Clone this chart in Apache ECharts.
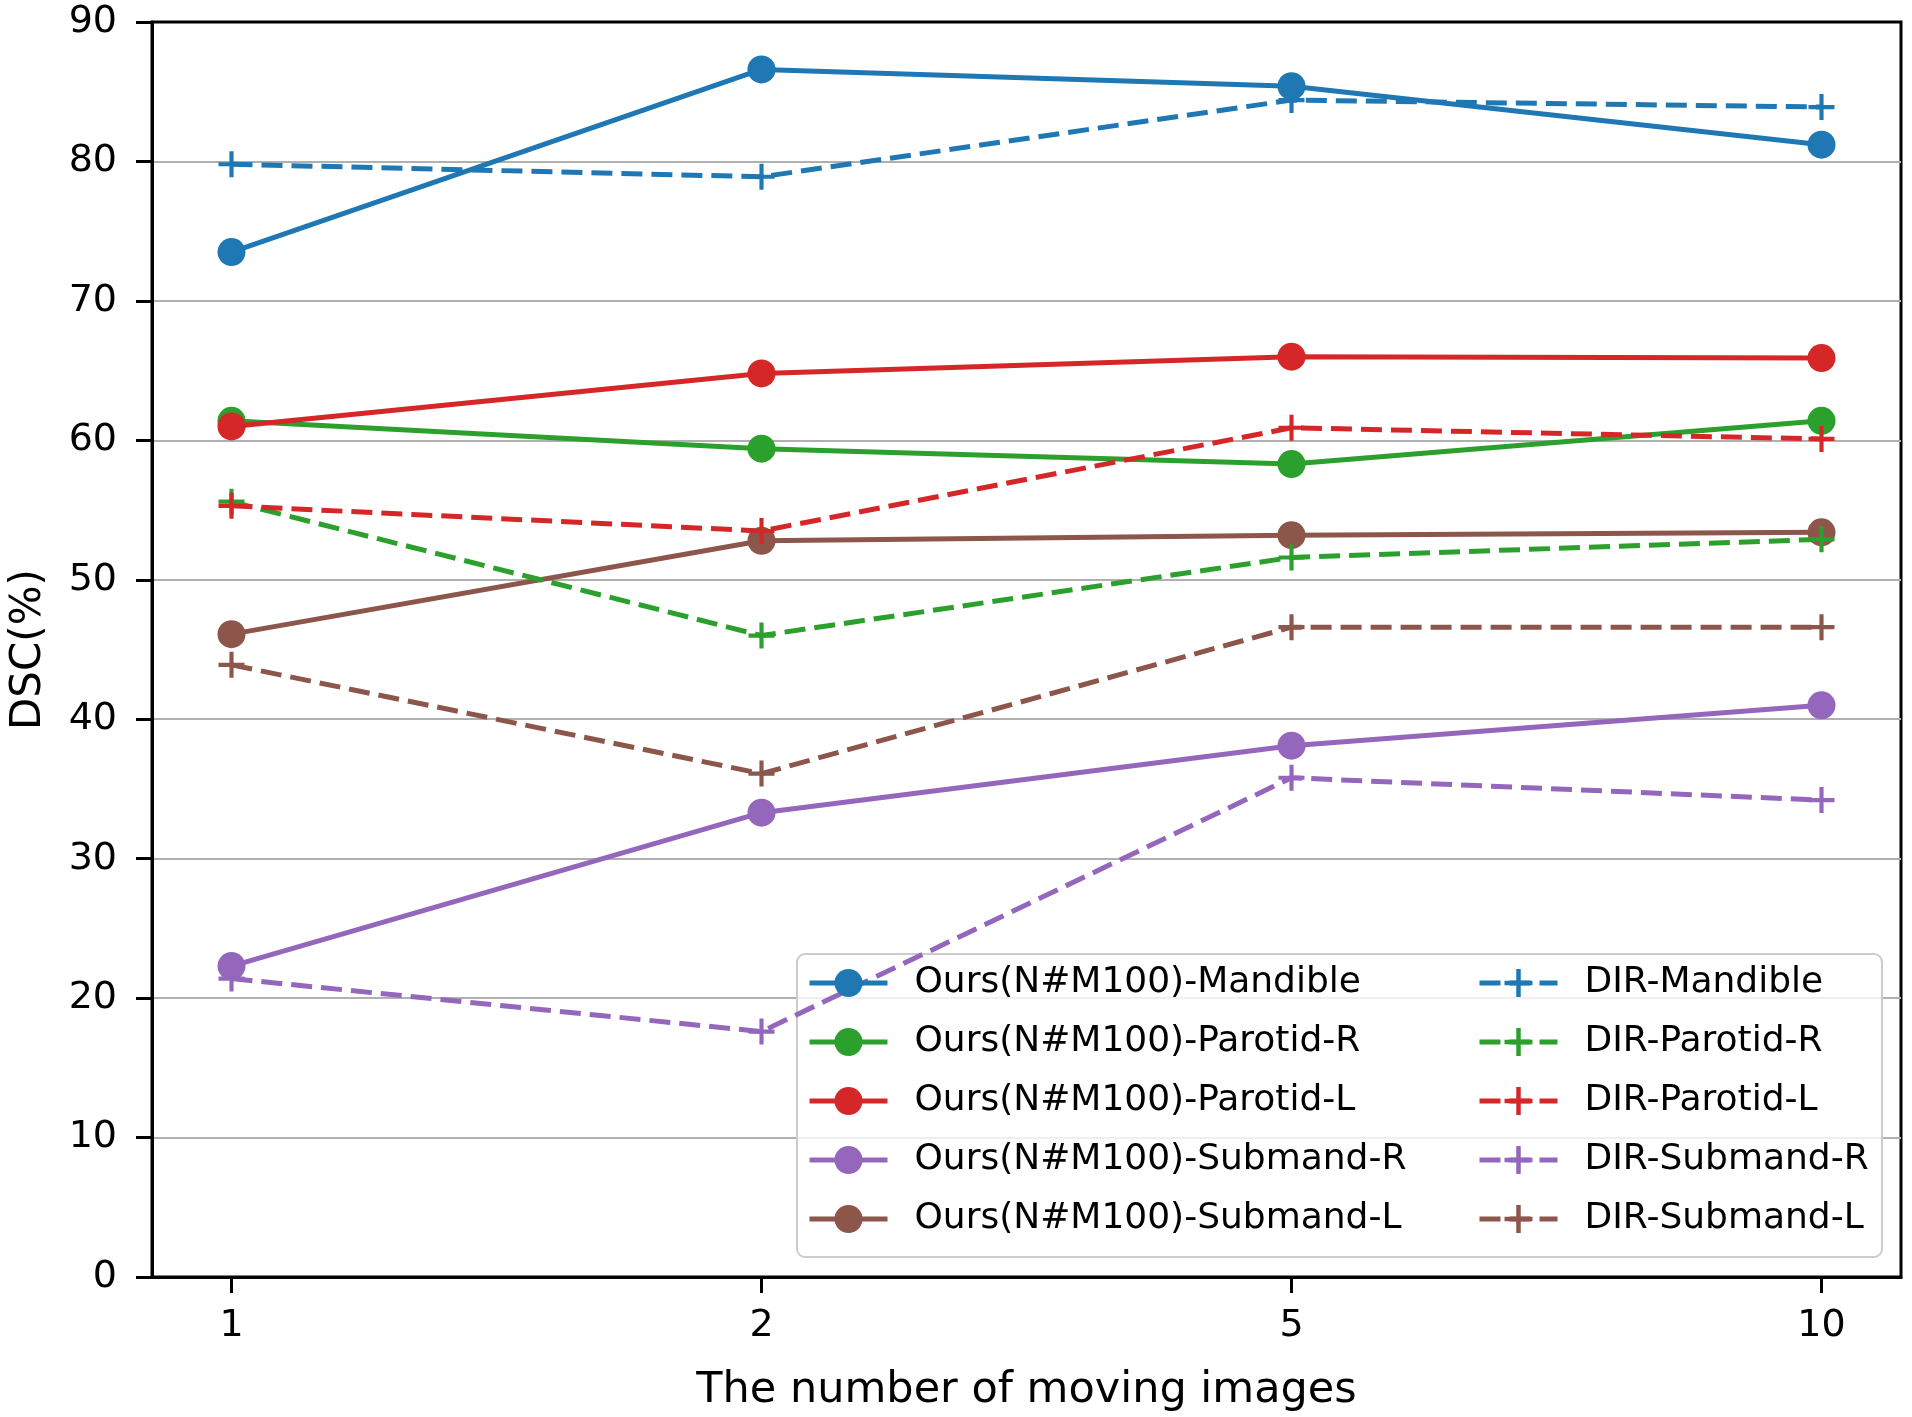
<!DOCTYPE html>
<html>
<head>
<meta charset="utf-8">
<script src="https://cdn.jsdelivr.net/npm/echarts@6/dist/echarts.min.js"></script>
<style>
html,body{margin:0;padding:0;background:#fff;}
#chart{width:1912px;height:1417px;}
</style>
</head>
<body>
<div id="chart"></div>
<script>
// ---- data ----
const categories = ['1', '2', '5', '10'];
const yTicks = [0, 10, 20, 30, 40, 50, 60, 70, 80, 90];

const oursMandible  = [73.5, 86.6, 85.4, 81.2];
const oursParotidR  = [61.4, 59.4, 58.3, 61.4];
const oursParotidL  = [61.0, 64.8, 66.0, 65.9];
const oursSubmandR  = [22.3, 33.3, 38.1, 41.0];
const oursSubmandL  = [46.1, 52.8, 53.2, 53.4];

const dirMandible   = [79.8, 78.9, 84.4, 83.9];
const dirParotidR   = [55.6, 46.0, 51.6, 52.9];
const dirParotidL   = [55.3, 53.5, 60.9, 60.1];
const dirSubmandR   = [21.4, 17.6, 35.8, 34.2];
const dirSubmandL   = [43.9, 36.1, 46.6, 46.6];

const oursNames = ['Ours(N#M100)-Mandible', 'Ours(N#M100)-Parotid-R', 'Ours(N#M100)-Parotid-L', 'Ours(N#M100)-Submand-R', 'Ours(N#M100)-Submand-L'];
const dirNames  = ['DIR-Mandible', 'DIR-Parotid-R', 'DIR-Parotid-L', 'DIR-Submand-R', 'DIR-Submand-L'];
const oursData = [oursMandible, oursParotidR, oursParotidL, oursSubmandR, oursSubmandL];
const dirData  = [dirMandible, dirParotidR, dirParotidL, dirSubmandR, dirSubmandL];
const colors = ['#1f77b4', '#2ca02c', '#d62728', '#9467bd', '#8c564b'];

// ---- chart ----
const FONT = 'DejaVu Sans';
const plus = 'path://M-0.08,-0.5 L0.08,-0.5 L0.08,-0.08 L0.5,-0.08 L0.5,0.08 L0.08,0.08 L0.08,0.5 L-0.08,0.5 L-0.08,0.08 L-0.5,0.08 L-0.5,-0.08 L-0.08,-0.08 Z';
const toPts = arr => arr.map((v, i) => [i, v]);

const series = [];
oursData.forEach((arr, k) => {
  series.push({
    name: oursNames[k], type: 'line', data: toPts(arr),
    symbol: 'circle', symbolSize: 28,
    lineStyle: { color: colors[k], width: 5 },
    itemStyle: { color: colors[k] },
    emphasis: { disabled: true }
  });
});
dirData.forEach((arr, k) => {
  series.push({
    name: dirNames[k], type: 'line', data: toPts(arr),
    symbol: plus, symbolSize: 26,
    lineStyle: { color: colors[k], width: 5, type: [21, 9] },
    itemStyle: { color: colors[k] },
    emphasis: { disabled: true }
  });
});

const legendCommon = {
  orient: 'vertical',
  itemWidth: 78, itemHeight: 35, itemGap: 23,
  padding: 0,
  selectedMode: false,
  lineStyle: { width: 5 },
  textStyle: { fontFamily: FONT, fontSize: 36, color: '#000', lineHeight: 36, padding: [0, 0, 0, 22] }
};

const chart = echarts.init(document.getElementById('chart'), null, { renderer: 'canvas' });
chart.setOption({
  animation: false,
  backgroundColor: '#fff',
  grid: { left: 150, right: 11, top: 22, bottom: 140, show: true, borderColor: '#000', borderWidth: 3, backgroundColor: 'transparent' },
  xAxis: {
    type: 'value', min: -0.15, max: 3.15,
    name: 'The number of moving images', nameLocation: 'middle', nameGap: 92,
    nameTextStyle: { fontFamily: FONT, fontSize: 43, color: '#000' },
    axisLine: { show: true, onZero: false, lineStyle: { color: '#000', width: 3 } },
    axisTick: { show: true, length: 16, lineStyle: { color: '#000', width: 3 }, customValues: [0, 1, 2, 3] },
    axisLabel: { fontFamily: FONT, fontSize: 38, color: '#000', margin: 30, customValues: [0, 1, 2, 3], formatter: v => categories[Math.round(v)] },
    splitLine: { show: false }
  },
  yAxis: {
    type: 'value', min: yTicks[0], max: yTicks[yTicks.length - 1], interval: 10,
    name: 'DSC(%)', nameLocation: 'middle', nameGap: 102, nameRotate: 90,
    nameTextStyle: { fontFamily: FONT, fontSize: 42, color: '#000' },
    axisLine: { show: true, onZero: false, lineStyle: { color: '#000', width: 3 } },
    axisTick: { show: true, length: 16, lineStyle: { color: '#000', width: 3 } },
    axisLabel: { fontFamily: FONT, fontSize: 38, color: '#000', margin: 35 },
    splitLine: { show: true, showMinLine: false, showMaxLine: false, lineStyle: { color: '#b0b0b0', width: 2 } }
  },
  graphic: { elements: [{
    type: 'rect', z: 3,
    shape: { x: 797, y: 954, width: 1085, height: 303, r: 8 },
    style: { fill: 'rgba(255,255,255,0.8)', stroke: '#cccccc', lineWidth: 2 }
  }]},
  legend: [
    Object.assign({}, legendCommon, { left: 807, top: 965, data: oursNames }),
    Object.assign({}, legendCommon, { left: 1477, top: 965, data: dirNames })
  ],
  series: series
});
</script>
</body>
</html>
